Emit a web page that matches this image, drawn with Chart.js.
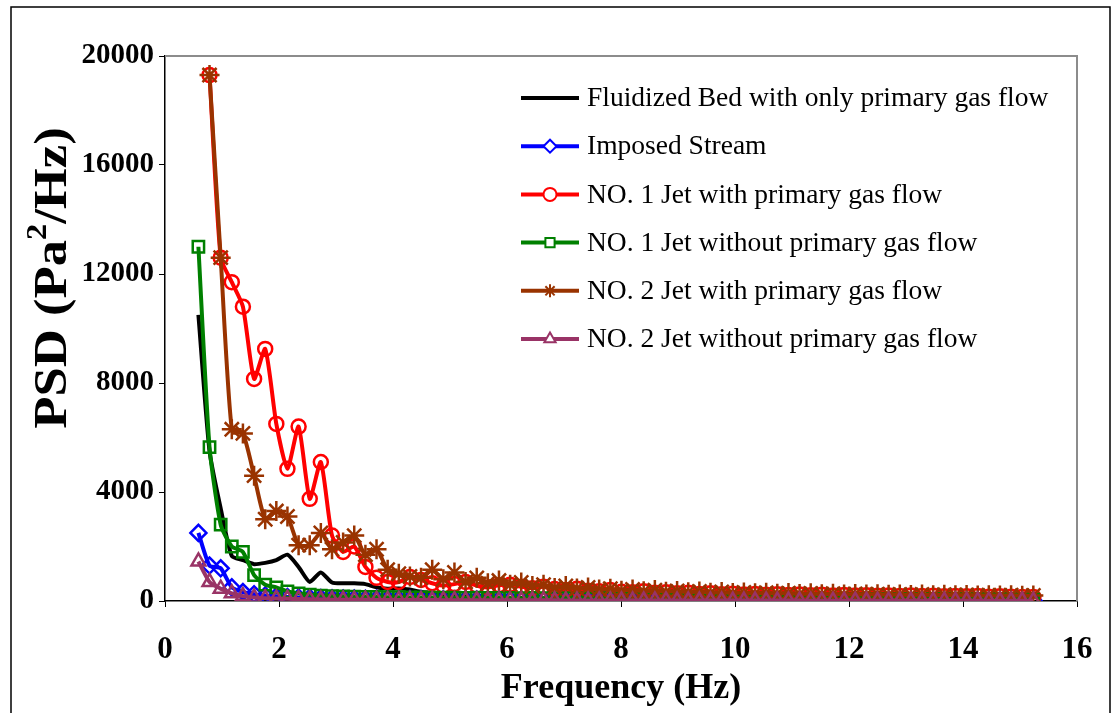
<!DOCTYPE html>
<html>
<head>
<meta charset="utf-8">
<script src="https://cdn.jsdelivr.net/npm/chart.js@4.4.0/dist/chart.umd.min.js"></script>
<style>
html, body { margin: 0; padding: 0; background: #fff; }
#wrap { width: 1117px; height: 713px; }
</style>
</head>
<body>
<div id="wrap"><canvas id="chart" width="1117" height="713"></canvas></div>
<script>
// frequency bins (Hz)
const freq = [
    0.586, 0.781, 0.977, 1.172, 1.367, 1.563, 1.758, 1.953, 2.148, 2.344,
    2.539, 2.734, 2.930, 3.125, 3.320, 3.516, 3.711, 3.906, 4.102, 4.297,
    4.492, 4.688, 4.883, 5.078, 5.273, 5.469, 5.664, 5.859, 6.055, 6.250,
    6.445, 6.641, 6.836, 7.031, 7.227, 7.422, 7.617, 7.813, 8.008, 8.203,
    8.398, 8.594, 8.789, 8.984, 9.180, 9.375, 9.570, 9.766, 9.961, 10.156,
    10.352, 10.547, 10.742, 10.938, 11.133, 11.328, 11.523, 11.719, 11.914, 12.109,
    12.305, 12.500, 12.695, 12.891, 13.086, 13.281, 13.477, 13.672, 13.867, 14.063,
    14.258, 14.453, 14.648, 14.844, 15.039, 15.234
];

const fluidizedBed = [
    10500, 5500, 3400, 1650, 1500, 1350, 1400, 1500, 1700, 1250,
    700, 1050, 680, 650, 650, 620, 500, 450, 460, 420,
    330, 300, 250, 200, 160, 140, 130, 120, 110, 110,
    100, 105, 95, 100, 90, 95, 90, 85, 90, 85,
    80, 85, 80, 75, 80, 75, 70, 75, 70, 70,
    65, 70, 65, 60, 65, 60, 60, 55, 60, 55,
    55, 50, 55, 50, 50, 45, 50, 45, 45, 40,
    45, 40, 40, 40, 35, 35
];

const imposedStream = [
    2500, 1300, 1200, 500, 330, 250, 200, 170, 150, 130,
    120, 110, 100, 95, 90, 85, 80, 80, 75, 70,
    70, 65, 65, 60, 60, 55, 55, 55, 50, 50,
    50, 45, 45, 45, 40, 40, 40, 40, 35, 35,
    35, 35, 35, 30, 30, 30, 30, 30, 30, 25,
    25, 25, 25, 25, 25, 25, 20, 20, 20, 20,
    20, 20, 20, 20, 20, 20, 15, 15, 15, 15,
    15, 15, 15, 15, 15, 15
];

const jet1With = [
    null, 19300, 12600, 11700, 10800, 8150, 9250, 6500, 4850, 6400,
    3750, 5100, 2400, 1800, 2000, 1250, 850, 700, 700, 880,
    770, 650, 560, 620, 700, 560, 500, 580, 600, 520,
    470, 520, 440, 400, 450, 380, 360, 400, 340, 320,
    360, 300, 320, 280, 300, 260, 280, 250, 270, 240,
    260, 230, 250, 220, 240, 210, 230, 200, 220, 200,
    210, 190, 200, 180, 200, 180, 190, 170, 180, 170,
    180, 160, 170, 160, 150, 150
];

const jet1Without = [
    13000, 5650, 2800, 2000, 1800, 950, 600, 500, 350, 280,
    230, 200, 180, 170, 160, 150, 150, 140, 140, 130,
    130, 125, 120, 125, 115, 120, 110, 115, 110, 105,
    110, 100, 105, 100, 100, 95, 100, 95, 95, 90,
    95, 90, 90, 85, 90, 85, 85, 80, 85, 80,
    80, 80, 75, 80, 75, 75, 70, 75, 70, 70,
    70, 65, 70, 65, 65, 60, 65, 60, 60, 60,
    55, 60, 55, 55, 50, 55
];

const jet2With = [
    null, 19300, 12600, 6300, 6150, 4600, 3000, 3300, 3100, 2050,
    2050, 2500, 1900, 2150, 2400, 1700, 1900, 1150, 1000, 900,
    850, 1150, 800, 1050, 700, 850, 650, 750, 600, 680,
    550, 600, 480, 550, 460, 500, 420, 450, 380, 420,
    360, 400, 340, 370, 320, 350, 300, 330, 290, 310,
    280, 300, 270, 290, 260, 280, 250, 270, 240, 260,
    240, 250, 230, 240, 220, 240, 210, 230, 210, 220,
    200, 210, 200, 210, 190, 200
];

const jet2Without = [
    1450, 700, 450, 280, 180, 130, 100, 90, 80, 70,
    60, 55, 50, 50, 45, 45, 40, 40, 40, 35,
    35, 35, 30, 30, 30, 30, 30, 25, 25, 25,
    25, 25, 25, 20, 20, 20, 20, 20, 20, 20,
    20, 20, 20, 15, 15, 15, 15, 15, 15, 15,
    15, 15, 15, 15, 15, 10, 10, 10, 10, 10,
    10, 10, 10, 10, 10, 10, 10, 10, 10, 10,
    10, 10, 10, 10, 10, 10
];

const seriesNames = [
    'Fluidized Bed with only primary gas flow',
    'Imposed Stream',
    'NO. 1 Jet with primary gas flow',
    'NO. 1 Jet without primary gas flow',
    'NO. 2 Jet with primary gas flow',
    'NO. 2 Jet without primary gas flow'
];
const seriesValues = [fluidizedBed, imposedStream, jet1With, jet1Without, jet2With, jet2Without];
const seriesColors = ['#000000', '#0000FF', '#FF0000', '#008000', '#993300', '#993366'];
const seriesMarkers = [false, 'rectRot', 'circle', 'rect', 'star', 'triangle'];
const markerSizes = [0, 8, 7, 8, 10, 8];

const FONT = "'Liberation Serif', 'Times New Roman', serif";

function toPoints(values) {
    return freq.map((f, i) => ({ x: f, y: values[i] }));
}

const datasets = seriesNames.map((name, i) => ({
    label: name,
    data: toPoints(seriesValues[i]),
    borderColor: seriesColors[i],
    backgroundColor: seriesColors[i],
    borderWidth: 4,
    tension: 0.2,
    pointStyle: seriesMarkers[i],
    pointRadius: markerSizes[i],
    pointBorderWidth: 2.5,
    pointBorderColor: seriesColors[i],
    pointBackgroundColor: 'rgba(0,0,0,0)',
    // later series drawn on top, like the original
    order: seriesNames.length - 1 - i
}));

// legend inside the plot, plus frame and y title
const decorations = {
    id: 'decorations',
    afterDraw(chart) {
        const ctx = chart.ctx;
        const area = chart.chartArea;
        ctx.save();

        // grey frame on top and right of plot
        ctx.strokeStyle = '#8c8c8c';
        ctx.lineWidth = 2;
        ctx.beginPath();
        ctx.moveTo(area.left, area.top);
        ctx.lineTo(area.right, area.top);
        ctx.lineTo(area.right, area.bottom);
        ctx.stroke();

        // outer border of the figure
        ctx.strokeStyle = '#000';
        ctx.lineWidth = 1.5;
        ctx.strokeRect(11, 7, 1099, 720);

        // legend
        ctx.font = '27.5px ' + FONT;
        ctx.textBaseline = 'middle';
        ctx.textAlign = 'left';
        seriesNames.forEach((name, i) => {
            const y = 98 + i * 48.2;
            ctx.strokeStyle = seriesColors[i];
            ctx.lineWidth = 4;
            ctx.beginPath();
            ctx.moveTo(521, y);
            ctx.lineTo(579, y);
            ctx.stroke();
            if (seriesMarkers[i]) {
                ctx.fillStyle = '#fff';
                ctx.lineWidth = 2;
                Chart.helpers.drawPoint(ctx, {
                    pointStyle: seriesMarkers[i],
                    radius: 6.5,
                    rotation: 0,
                    borderWidth: 2
                }, 550, y);
            }
            ctx.fillStyle = '#000';
            ctx.fillText(name, 587, y + 1);
        });

        // y axis title with superscript
        ctx.translate(50, 278);
        ctx.rotate(-Math.PI / 2);
        ctx.scale(1.12, 1);
        const big = 'bold 47px ' + FONT;
        const small = 'bold 29px ' + FONT;
        ctx.font = big;
        const w1 = ctx.measureText('PSD (Pa').width;
        const w3 = ctx.measureText('/Hz)').width;
        ctx.font = small;
        const w2 = ctx.measureText('2').width;
        let x = -(w1 + w2 + w3) / 2;
        ctx.fillStyle = '#000';
        ctx.textBaseline = 'alphabetic';
        ctx.font = big;
        ctx.fillText('PSD (Pa', x, 16);
        x += w1;
        ctx.font = small;
        ctx.fillText('2', x, -4);
        x += w2;
        ctx.font = big;
        ctx.fillText('/Hz)', x, 16);

        ctx.restore();
    }
};

const ctx = document.getElementById('chart').getContext('2d');
const chart = new Chart(ctx, {
    type: 'line',
    data: { datasets: datasets },
    options: {
        responsive: false,
        animation: false,
        layout: { padding: { left: 10, right: 40, top: 56, bottom: 0 } },
        plugins: {
            legend: { display: false },
            tooltip: { enabled: false }
        },
        scales: {
            x: {
                type: 'linear',
                min: 0,
                max: 16,
                afterFit: (s) => { s.height = 112; },
                ticks: {
                    stepSize: 2,
                    color: '#000',
                    padding: 24,
                    font: { family: FONT, size: 31, weight: 'bold' },
                    callback: (v) => String(v)
                },
                grid: { drawOnChartArea: false, tickLength: 6, color: '#000' },
                border: { color: '#000', width: 1.5 },
                title: {
                    display: true,
                    text: 'Frequency (Hz)',
                    color: '#000',
                    font: { family: FONT, size: 36, weight: 'bold' },
                    padding: { top: 0, bottom: 3 }
                }
            },
            y: {
                min: 0,
                max: 20000,
                afterFit: (s) => { s.width = 155; },
                ticks: {
                    stepSize: 4000,
                    color: '#000',
                    padding: 5,
                    font: { family: FONT, size: 29, weight: 'bold' },
                    callback: (v) => String(v)
                },
                grid: { drawOnChartArea: false, tickLength: 6, color: '#000' },
                border: { color: '#000', width: 1.5 }
            }
        }
    },
    plugins: [decorations]
});
</script>
</body>
</html>
